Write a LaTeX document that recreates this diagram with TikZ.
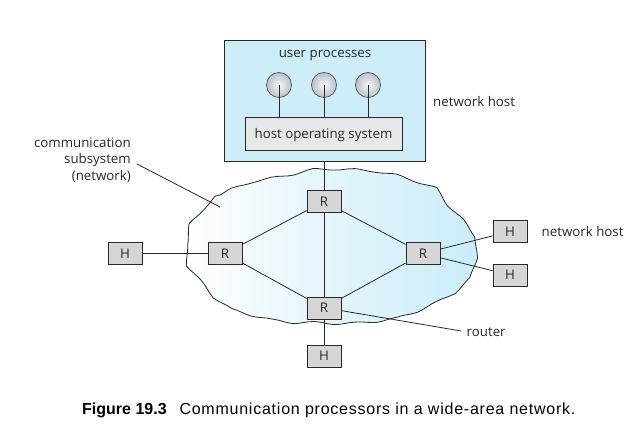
\documentclass[tikz,border=0pt]{standalone}
\usepackage{fontspec}
\usetikzlibrary{decorations.pathmorphing}
\setmainfont{Open Sans}
\newfontfamily\capfont{Liberation Sans}
\newfontfamily\capfontsp[LetterSpace=4.8]{Liberation Sans}
\definecolor{hostblue}{RGB}{205,237,249}
\definecolor{cloudblue}{RGB}{202,236,249}
\definecolor{rgray}{RGB}{214,214,214}
\definecolor{osgray}{RGB}{232,232,232}
\definecolor{edge}{RGB}{40,40,40}
\definecolor{ballout}{RGB}{185,194,200}
\definecolor{ballin}{RGB}{245,247,248}
\begin{document}
\begin{tikzpicture}[x=1pt,y=-1pt,
  lbl/.style={font=\fontsize{13.3}{15}\selectfont, text=black!85, inner sep=0pt},
  gbox/.style={draw=edge, line width=0.8pt, fill=rgray, minimum width=34pt, minimum height=22pt, inner sep=0pt, font=\fontsize{13.3}{15}\selectfont, text=black!85},
  proc/.style={circle, draw=edge!80, line width=0.7pt, inner color=ballin, outer color=ballout, minimum size=25pt, inner sep=0pt},
  link/.style={draw=edge, line width=0.8pt}]
\useasboundingbox (0,0) rectangle (641,443);
% cloud
\def\cloudpts{(210,201.7) (220,195) (236.7,188.3) (250,185) (270,181.7) (286.7,178.3) (303,175) (320,174) (350,175)
   (377,178) (403,185) (427,194) (440,209) (456,226) (468,244) (468,266)
   (460,287) (443,300) (417,313) (390,323) (350,328) (320,328.3) (303,327) (286.7,326.7) (270,325) (256.7,321.7) (243.3,318.3)
   (226.7,313.3) (213.3,305) (203.3,296.7) (193.3,285) (185,276.7) (180,266.7) (179.3,246.7) (181.7,231.7) (190,223.3) (200,211.7)}
\path[draw=edge, line width=0.8pt, left color=white, right color=cloudblue, decorate, decoration={snake, amplitude=1.1pt, segment length=42pt}]
  plot[smooth cycle, tension=0.6] coordinates {\cloudpts};
% host box
\node[draw=edge, line width=0.8pt, fill=hostblue, minimum width=201pt, minimum height=121pt, inner sep=0pt] (host) at (324.5,100.5) {};
\node[lbl, anchor=base] (up) at (325,58) {user processes};
\node[draw=edge, line width=0.8pt, fill=osgray, minimum width=157pt, minimum height=33pt, inner sep=0pt, font=\fontsize{13.3}{15}\selectfont, text=black!85, text height=9.8pt, text depth=0pt] (os) at (323.5,133.5) {host operating system};
\foreach \i/\x in {1/279,2/324,3/368}{
  \node[proc] (p\i) at (\x,85) {};
  \draw[link] (p\i.center) -- (os.north -| p\i.center);
}
% routers and hosts
\node[gbox] (rt) at (324,201.5) {R};
\node[gbox] (rl) at (225,253.5) {R};
\node[gbox] (rr) at (423,253.5) {R};
\node[gbox] (rb) at (324,308) {R};
\node[gbox] (hl) at (125,253.5) {H};
\node[gbox] (hrt) at (510,231.5) {H};
\node[gbox] (hrb) at (510,275) {H};
\node[gbox] (hb) at (324,356) {H};
\draw[link] (host.south -| rt.north) -- (rt.north);
\draw[link] (rt) -- (rb);
\draw[link] (rl) -- (rt);
\draw[link] (rl) -- (rb);
\draw[link] (rt) -- (rr);
\draw[link] (rb) -- (rr);
\draw[link] (hl) -- (rl);
\draw[link] (rr) -- (hrt);
\draw[link] (rr) -- (hrb);
\draw[link] (rb) -- (hb);
% labels
\node[lbl, anchor=west] (nh1) at (433,101.5) {network host};
\node[lbl, anchor=west] (nh2) at (541.5,232) {network host};
\node[lbl, anchor=west] (rtr) at (466.5,332) {router};
\coordinate (rtrend) at (461,331);
\draw[link] (341.7,310.7) -- (rtrend);
\node[lbl, anchor=east, align=right, font=\fontsize{13.3}{16.7}\selectfont] (cs) at (131,160) {communication\\subsystem\\(network)};
\coordinate (csa) at (137,164);
\coordinate (csb) at (220,207);
\draw[link] (csa) -- (csb);
% caption
\node[anchor=base west, inner sep=0pt, font=\capfont\bfseries\fontsize{16}{18}\selectfont] (fig) at (82,414.7) {Figure 19.3};
\node[anchor=base west, inner sep=0pt, font=\capfontsp\fontsize{16}{18}\selectfont] (cap) at (179.3,414.7) {Communication processors in a wide-area network.};
\end{tikzpicture}
\end{document}
